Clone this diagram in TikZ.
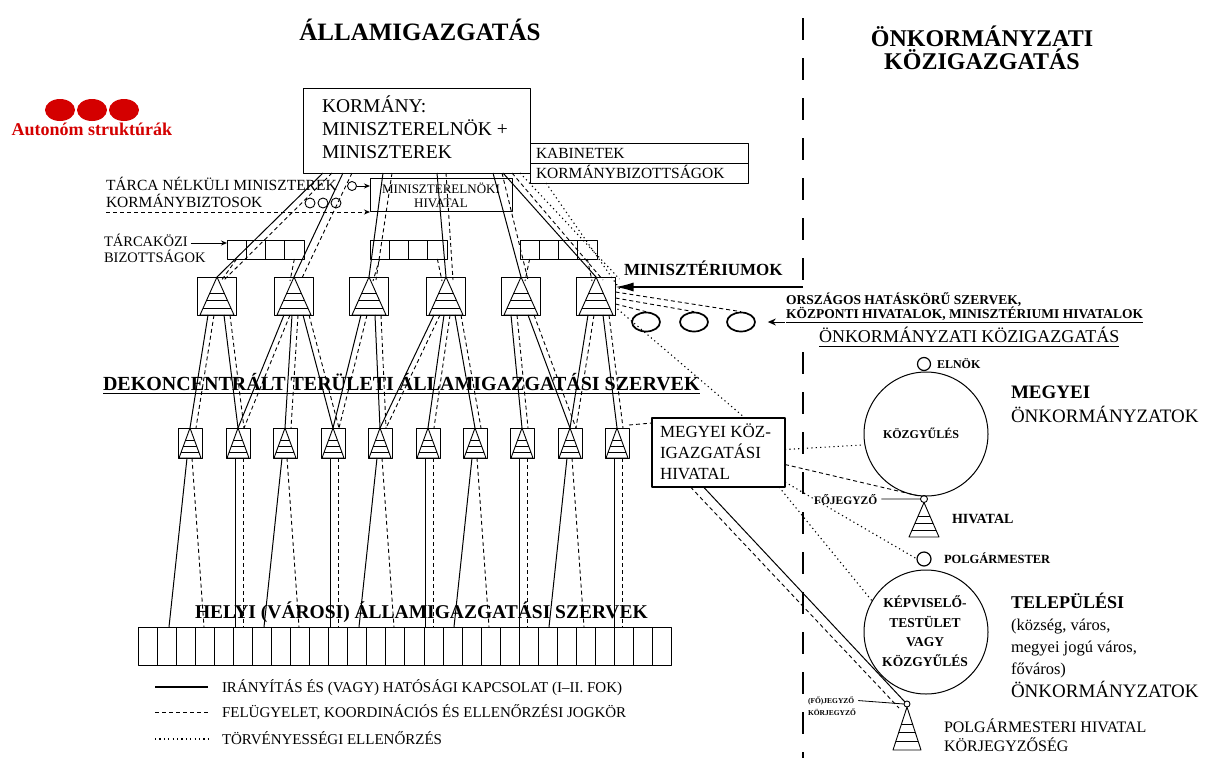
\documentclass[tikz,border=0pt]{standalone}
\usepackage{fontspec}
\setmainfont{Liberation Serif}
\usetikzlibrary{calc,arrows.meta,shapes.geometric}
\newcommand{\myfs}[1]{\fontsize{#1pt}{#1pt}\selectfont}
\definecolor{autred}{RGB}{212,0,0}
\tikzset{
 lbl/.style={anchor=base west, inner sep=0pt, outer sep=0pt},
 lblc/.style={anchor=base, inner sep=0pt, outer sep=0pt},
 box/.style={draw, line width=1pt, inner sep=0pt, outer sep=0pt, anchor=north west},
 mbox/.style={draw, line width=1pt, minimum width=39pt, minimum height=38pt, inner sep=0pt, outer sep=0pt},
 dbox/.style={draw, line width=1pt, minimum width=24pt, minimum height=30pt, inner sep=0pt, outer sep=0pt},
 cell/.style={draw, line width=1pt, minimum width=19.07pt, minimum height=38pt, inner sep=0pt, outer sep=0pt, anchor=north west},
 ccell/.style={draw, line width=0.9pt, minimum width=19.25pt, minimum height=19pt, inner sep=0pt, outer sep=0pt, anchor=north west},
 smallc/.style={draw, circle, line width=0.9pt, inner sep=0pt, outer sep=0pt},
 solidc/.style={line width=1pt},
 dashc/.style={line width=0.9pt, dash pattern=on 4pt off 3pt},
 dotc/.style={line width=1.1pt, dash pattern=on 1.2pt off 3.2pt},
 sepline/.style={line width=1.8pt, dash pattern=on 22pt off 18pt},
}
\begin{document}
\begin{tikzpicture}[x=1pt,y=-1pt,line join=round]
\fill[white] (0,0) rectangle (1218,758);
\useasboundingbox (0,0) rectangle (1218,758);

% ---------- titles
\node[lblc, font=\bfseries\myfs{25}] (tl) at (420,40) {ÁLLAMIGAZGATÁS};
\node[lblc, font=\bfseries\myfs{24}] (tr1) at (982,46) {ÖNKORMÁNYZATI};
\node[lblc, font=\bfseries\myfs{24}] (tr2) at (982,69) {KÖZIGAZGATÁS};

% ---------- separator
\coordinate (s0) at (803,18);
\coordinate (ma) at (803,287);
\coordinate (s2) at (803,352);
\coordinate (s3) at (803,758);
\draw[sepline] (s0) -- (ma);
\draw[sepline] (s2) -- (s3);

% ---------- autonomous structures
\foreach \i/\x in {1/60,2/92,3/124}
  \node[ellipse, fill=autred, minimum width=30pt, minimum height=22pt, inner sep=0pt] (red\i) at (\x,110) {};
\node[lblc, font=\bfseries\myfs{18}, text=autred] (aut) at (92,135) {Autonóm struktúrák};

% ---------- government box
\node[box, minimum width=227pt, minimum height=85pt] (korm) at (303,88) {};
\node[lbl, font=\myfs{19.5}] (k1) at (322,112) {KORMÁNY:};
\node[lbl, font=\myfs{19.5}] (k2) at (322,135) {MINISZTERELNÖK +};
\node[lbl, font=\myfs{19.5}] (k3) at (322,158) {MINISZTEREK};

\node[box, minimum width=218pt, minimum height=20pt] (kab) at (530,143) {};
\node[box, minimum width=218pt, minimum height=20pt] (kbiz) at (530,163) {};
\node[lbl, font=\myfs{15.5}] (kabt) at (536,158.5) {KABINETEK};
\node[lbl, font=\myfs{15.5}] (kbizt) at (536,178.5) {KORMÁNYBIZOTTSÁGOK};

% ---------- prime minister's office
\node[box, minimum width=142pt, minimum height=33pt] (mh) at (370,178) {};
\node[lblc, font=\myfs{13}] (mh1) at (441,193) {MINISZTERELNÖKI};
\node[lblc, font=\myfs{13}] (mh2) at (441,207) {HIVATAL};

\node[lbl, font=\myfs{15.5}] (tn) at (106,190) {TÁRCA NÉLKÜLI MINISZTEREK};
\node[lbl, font=\myfs{15.5}] (kb) at (106,207) {KORMÁNYBIZTOSOK};
\node[smallc, minimum size=9pt] (c0) at (352,186) {};
\node[smallc, minimum size=10pt] (cb1) at (310,203) {};
\node[smallc, minimum size=10pt] (cb2) at (323,203) {};
\node[smallc, minimum size=10pt] (cb3) at (336,203) {};
\draw[solidc, -{Stealth[length=6pt,width=5pt]}] (c0.east) -- (c0.east -| mh.west);
\coordinate (kbu) at ($(kb.base west)+(0,5)$);
\draw[dashc, -{Stealth[length=6pt,width=5pt]}] (kbu) -- (kbu -| mh.west);

% ---------- inter-ministerial committees
\node[lbl, font=\myfs{14.5}] (tk1) at (104,246) {TÁRCAKÖZI};
\node[lbl, font=\myfs{14.5}] (tk2) at (104,262) {BIZOTTSÁGOK};
\foreach \g/\gx in {1/227,2/370,3/520}
  \foreach \k in {0,...,3}
    \node[ccell] (G\g\k) at (\gx+\k*19.25,240) {};
\coordinate (tka) at ($(tk1.base east)+(3,-3)$);
\draw[solidc, -{Stealth[length=6pt,width=5pt]}] (tka) -- (tka -| G10.west);

% ---------- ministries
\foreach \i/\x in {1/217,2/294,3/369,4/446,5/521,6/596}{
  \node[mbox] (M\i) at (\x,296) {};
  \coordinate (ML\i) at ($(M\i.south)+(-17,0)$);
  \coordinate (MR\i) at ($(M\i.south)+(17,0)$);
  \draw[line width=0.9pt] (M\i.north) -- (ML\i) -- (MR\i) -- cycle;
  \foreach \q in {0.42,0.62,0.82}
    \draw[line width=0.8pt] ($(M\i.north)!\q!(ML\i)$) -- ($(M\i.north)!\q!(MR\i)$);
}
\node[lbl, font=\bfseries\myfs{17}] (mint) at (624,275) {MINISZTÉRIUMOK};
\draw[line width=1.3pt, -{Latex[length=18pt,width=9pt]}] (ma) -- (ma -| M6.east);

% government -> ministries
\foreach \m/\s in {1/20,2/40,3/80,4/134,5/190,6/200}{
  \draw[solidc] ($(korm.south west)+(\s,0)$) -- (M\m.north);
  \draw[dashc] ($(korm.south west)+(\s+9,0)$) -- ($(M\m.north)+(7,3)$);
}
% committees -> ministries
\draw[dashc] (G10.south) -- ($(M1.north)+(4,4)$);
\draw[dashc] (G13.south) -- ($(M2.north)+(-4,4)$);
\draw[dashc] (G20.south) -- ($(M3.north)+(4,4)$);
\draw[dashc] (G23.south) -- ($(M4.north)+(-4,4)$);
\draw[dashc] (G30.south) -- ($(M5.north)+(4,4)$);
\draw[dashc] (G33.south) -- ($(M6.north)+(-4,4)$);
% dotted from government to the right
\draw[dotc] ($(korm.south east)+(-10,0)$) -- ($(M6.north east)+(4,2)$);
\draw[dotc] ($(kbiz.south west)+(16,0)$) -- ($(M6.east)+(5,-6)$);

% ---------- national bodies
\node[draw, ellipse, line width=1.7pt, minimum width=28pt, minimum height=19pt, inner sep=0pt] (o1) at (646,322) {};
\node[draw, ellipse, line width=1.7pt, minimum width=28pt, minimum height=19pt, inner sep=0pt] (o2) at (694,322) {};
\node[draw, ellipse, line width=1.7pt, minimum width=28pt, minimum height=19pt, inner sep=0pt] (o3) at (741,322) {};
\draw[dashc] ($(M6.east)+(0,-4)$) -- (o3.north);
\draw[dashc] ($(M6.east)+(0,2)$) -- (o2.north);
\draw[dashc] ($(M6.east)+(0,8)$) -- (o1.north);
\node[lbl, font=\bfseries\myfs{13.5}] (or1) at (786,304) {ORSZÁGOS HATÁSKÖRŰ SZERVEK,};
\node[lbl, font=\bfseries\myfs{13.5}] (or2) at (786,318) {KÖZPONTI HIVATALOK, MINISZTÉRIUMI HIVATALOK};
\draw[line width=0.9pt] ($(or2.base west)+(0,4)$) -- ($(or2.base east)+(0,4)$);
\coordinate (ora) at (785,322);
\draw[line width=1pt, -{Stealth[length=8pt,width=7pt]}] (ora) -- ($(o3.east)+(12,0)$);

% ---------- deconcentrated bodies
\node[lbl, font=\bfseries\myfs{20}] (dek) at (103,390) {DEKONCENTRÁLT TERÜLETI ÁLLAMIGAZGATÁSI SZERVEK};
\draw[line width=1pt] ($(dek.base west)+(0,3)$) -- ($(dek.base east)+(0,3)$);
\foreach \i/\x in {1/190,2/238,3/285,4/333,5/380,6/428,7/475,8/522,9/570,10/617}{
  \node[dbox] (D\i) at (\x,443) {};
  \coordinate (DL\i) at ($(D\i.south)+(-11,0)$);
  \coordinate (DR\i) at ($(D\i.south)+(11,0)$);
  \draw[line width=0.9pt] (D\i.north) -- (DL\i) -- (DR\i) -- cycle;
  \foreach \q in {0.42,0.62,0.82}
    \draw[line width=0.8pt] ($(D\i.north)!\q!(DL\i)$) -- ($(D\i.north)!\q!(DR\i)$);
}
\foreach \m/\d/\o in {1/1/-9,1/2/7,2/2/-10,2/3/-2,2/4/9,3/4/-8,3/5/6,4/5/-12,4/6/-2,4/7/9,5/8/-10,5/9/7,6/9/-8,6/10/7}{
  \draw[solidc] ($(M\m.south)+(\o,0)$) -- (D\d.north);
  \draw[dashc] ($(M\m.south)+(\o+6,0)$) -- ($(D\d.north)+(6,0)$);
}

% ---------- local bodies
\foreach \k in {0,...,27}
  \node[cell] (H\k) at (138+\k*19.07,627) {};
\foreach \d in {1,3,5,7,9}{
  \draw[solidc] ($(D\d.south)+(-3,0)$) -- ($(D\d.south)+(-21,169)$);
  \draw[dashc] ($(D\d.south)+(2,0)$) -- ($(D\d.south)+(14,169)$);
}
\foreach \d in {2,4,6,8,10}{
  \draw[solidc] ($(D\d.south)+(-3,0)$) -- ($(D\d.south)+(-3,169)$);
  \draw[dashc] ($(D\d.south)+(5,0)$) -- ($(D\d.south)+(5,169)$);
}
\node[lbl, font=\bfseries\myfs{19.5}] (helyi) at (195,618) {HELYI (VÁROSI) ÁLLAMIGAZGATÁSI SZERVEK};

% ---------- county office
\node[box, line width=2.2pt, minimum width=133pt, minimum height=69pt] (mk) at (652,418) {};
\node[lbl, font=\myfs{17}] (mk1) at (660,437) {MEGYEI KÖZ-};
\node[lbl, font=\myfs{17}] (mk2) at (660,458) {IGAZGATÁSI};
\node[lbl, font=\myfs{17}] (mk3) at (660,479) {HIVATAL};
\draw[dashc] ($(D10.north east)+(0,-3)$) -- ($(mk.north west)+(0,5)$);
\draw[dotc] ($(M6.south east)+(2,-6)$) -- ($(mk.north east)+(-40,0)$);

% ---------- self-government side
\node[lbl, font=\myfs{18}] (onk) at (819,342) {ÖNKORMÁNYZATI KÖZIGAZGATÁS};
\draw[line width=1pt] ($(onk.base west)+(0,4)$) -- ($(onk.base east)+(0,4)$);

\node[smallc, line width=1.2pt, minimum size=13pt] (eln) at (924,364) {};
\node[lbl, font=\bfseries\myfs{12}] (elnt) at (937,368) {ELNÖK};
\node[draw, circle, line width=1pt, minimum size=124pt, inner sep=0pt] (c1) at (926,434) {};
\node[lblc, font=\bfseries\myfs{12}] (c1t) at (921,438) {KÖZGYŰLÉS};
\node[lbl, font=\bfseries\myfs{19}] (meg1) at (1011,398) {MEGYEI};
\node[lbl, font=\myfs{19}] (meg2) at (1011,422) {ÖNKORMÁNYZATOK};

% county hivatal
\node[smallc, minimum size=7pt] (hc) at (924,499) {};
\coordinate (hvL) at (909,537);
\coordinate (hvR) at (939,537);
\draw[line width=0.9pt] (hc.south) -- (hvL) -- (hvR) -- cycle;
\foreach \q in {0.4,0.6,0.8}
  \draw[line width=0.8pt] ($(hc.south)!\q!(hvL)$) -- ($(hc.south)!\q!(hvR)$);
\node[lbl, font=\bfseries\myfs{11.5}] (fj) at (814,504) {FŐJEGYZŐ};
\draw[line width=0.8pt] ($(fj.east)+(4,0)$) -- (hc.west);
\node[lbl, font=\bfseries\myfs{14}] (hvt) at (952,523) {HIVATAL};

% municipal
\node[smallc, line width=1.2pt, minimum size=14pt] (pm) at (924,559) {};
\node[lbl, font=\bfseries\myfs{12.5}] (pmt) at (944,563) {POLGÁRMESTER};
\node[draw, circle, line width=1pt, minimum size=124pt, inner sep=0pt] (c2) at (926,632) {};
\node[lblc, font=\bfseries\myfs{13.5}] (c2a) at (925,607) {KÉPVISELŐ-};
\node[lblc, font=\bfseries\myfs{13.5}] (c2b) at (925,627) {TESTÜLET};
\node[lblc, font=\bfseries\myfs{13.5}] (c2c) at (925,646) {VAGY};
\node[lblc, font=\bfseries\myfs{13.5}] (c2d) at (925,666) {KÖZGYŰLÉS};
\node[lbl, font=\bfseries\myfs{18}] (tel1) at (1011,608) {TELEPÜLÉSI};
\node[lbl, font=\myfs{16.5}] (tel2) at (1011,630) {(község, város,};
\node[lbl, font=\myfs{16.5}] (tel3) at (1011,652) {megyei jogú város,};
\node[lbl, font=\myfs{16.5}] (tel4) at (1011,674) {főváros)};
\node[lbl, font=\myfs{19}] (tel5) at (1011,697) {ÖNKORMÁNYZATOK};

\node[smallc, minimum size=6pt] (t2c) at (907,704) {};
\coordinate (t2L) at (893,750);
\coordinate (t2R) at (921,750);
\draw[line width=0.9pt] (t2c.south) -- (t2L) -- (t2R) -- cycle;
\foreach \q in {0.4,0.6,0.8}
  \draw[line width=0.8pt] ($(t2c.south)!\q!(t2L)$) -- ($(t2c.south)!\q!(t2R)$);
\node[lbl, font=\bfseries\myfs{7.5}] (fj2a) at (808,703) {(FŐ)JEGYZŐ};
\node[lbl, font=\bfseries\myfs{7.5}] (fj2b) at (808,715) {KÖRJEGYZŐ};
\draw[line width=0.8pt] ($(fj2a.east)+(4,0)$) -- (t2c.west);
\node[lbl, font=\myfs{16}] (ph1) at (944,732) {POLGÁRMESTERI HIVATAL};
\node[lbl, font=\myfs{16}] (ph2) at (944,751) {KÖRJEGYZŐSÉG};

% county office -> self-government
\draw[dotc] ($(mk.east)+(0,-3)$) -- (c1.190);
\draw[dashc] ($(mk.east)+(0,12)$) -- (hc.north west);
\draw[dotc] ($(mk.south east)+(-6,0)$) -- (c2.150);
\draw[dotc] ($(mk.south east)+(0,-5)$) -- (pm.west);
\draw[solidc] ($(mk.south)+(-15,0)$) -- (t2c.north west);
\draw[dashc] ($(mk.south)+(-28,0)$) -- ($(t2c.west)+(-5,4)$);

% ---------- legend
\coordinate (l1a) at (155,687); \coordinate (l1b) at (208,687);
\coordinate (l2a) at (155,712); \coordinate (l2b) at (210,712);
\coordinate (l3a) at (155,739); \coordinate (l3b) at (210,739);
\draw[solidc, line width=1.3pt] (l1a) -- (l1b);
\draw[dashc] (l2a) -- (l2b);
\draw[dotc] (l3a) -- (l3b);
\node[lbl, font=\myfs{15}] (lg1) at (222,692) {IRÁNYÍTÁS ÉS (VAGY) HATÓSÁGI KAPCSOLAT (I–II. FOK)};
\node[lbl, font=\myfs{15}] (lg2) at (222,717) {FELÜGYELET, KOORDINÁCIÓS ÉS ELLENŐRZÉSI JOGKÖR};
\node[lbl, font=\myfs{15}] (lg3) at (222,744) {TÖRVÉNYESSÉGI ELLENŐRZÉS};
\end{tikzpicture}
\end{document}
